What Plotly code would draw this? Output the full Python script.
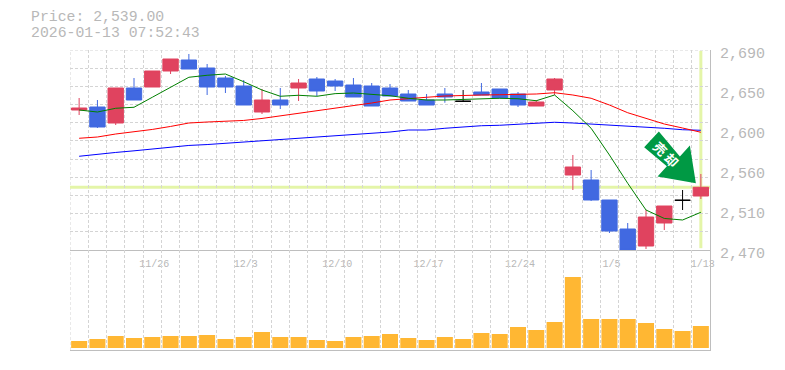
import plotly.graph_objects as go

dates = ["11/19","11/20","11/21","11/25","11/26","11/27","11/28","12/1","12/2","12/3","12/4","12/5",
         "12/8","12/9","12/10","12/11","12/12","12/15","12/16","12/17","12/18","12/19","12/22","12/23",
         "12/24","12/25","12/26","12/29","12/30","1/5","1/6","1/7","1/8","1/9","1/13"]
opens = [2624,2627.3,2609.7,2648.2,2649.3,2666.9,2679,2670.2,2659.2,2650.4,2621.8,2635,2648.2,2658.1,2655.9,
         2651.5,2650.4,2648.2,2641.6,2635,2641.6,2633.6,2643.8,2647.1,2641.6,2628.4,2646,2552.5,2547,2525,
         2493.1,2474.4,2499.7,2524.7,2529.4]
highs = [2637.2,2635,2648.2,2659.2,2666.9,2680.1,2685.6,2674.6,2661.4,2657,2647.1,2648.2,2658.1,2660.3,2658.1,
         2659.2,2653.7,2652.6,2646,2641.6,2648.2,2646,2653.7,2647.1,2643.8,2635,2659.2,2574.5,2558,2525,
         2499.7,2514,2518.4,2536,2553.6]
lows = [2618.5,2604.2,2607.5,2635,2649.3,2663.6,2669.1,2640.5,2642.7,2629.5,2619.6,2625.1,2633.9,2639.4,2644.9,
        2638.3,2628.4,2639.4,2633.9,2629.5,2632,2632.8,2640.5,2637.2,2627.3,2628.4,2640.5,2536,2523.9,2488.7,
        2470,2471.1,2492,2514,2526.1]
closes = [2626.2,2605.3,2648.2,2635,2666.9,2680.1,2669.1,2649.3,2649.3,2629.5,2635,2629.5,2653.7,2644.9,2650.4,
          2638.3,2628.4,2639.4,2633.9,2629.5,2638.3,2633.6,2640.5,2637.2,2629.5,2632.8,2658.1,2561.3,2525,2490.9,
          2470,2506.3,2518.4,2524.7,2539]
ma_short = [2624,2621.8,2625.9,2627,2638,2649,2660,2662.2,2663.6,2655.1,2646,2639.1,2640.2,2639.1,2642,2642.7,
            2641.3,2639.7,2636.9,2635,2635,2635.8,2636.1,2636.9,2636.4,2634.2,2640.5,2623.2,2603.9,2574.5,
            2543.4,2514,2504.7,2503,2511.5]
ma_mid = [2592.9,2594.3,2597.6,2599.8,2602.6,2605.9,2609.7,2610.8,2611.4,2612.5,2614.7,2617.4,2620.2,2622.9,2625.7,
          2629,2631.7,2635,2636.9,2638,2639.4,2640.2,2640.5,2640.8,2641.3,2641.6,2643,2640.5,2636.9,2629.5,
          2621,2614.9,2608.6,2604.2,2599.5]
ma_long = [2573.1,2575.4,2577.3,2579.1,2581.1,2583.3,2585,2586,2587.4,2588.5,2589.9,2591.2,2592.7,2594.6,2596.2,
           2597.3,2598.5,2599.8,2602,2602,2603.9,2605.6,2606.7,2607.2,2608.3,2609.7,2610.5,2609.7,2608.6,2607.8,
           2606.4,2605,2603.9,2602.3,2601.7]
volumes = [7,9,12,10,11,12,12,13,9,11,16,11,11,8,7,11,12,14,10,8,11,9,15,14,21,18,26,71,29,29,29,25,19,17,22]
price_ticks = [2690,2646,2602,2558,2514,2470]
price_labels = ["2,690","2,650","2,600","2,560","2,510","2,470"]
date_ticks = ["11/26","12/3","12/10","12/17","12/24","1/5","1/13"]
last_price = 2539.0
stamp = "2026-01-13 07:52:43"

RED, BLUE, TEXT, GRID, AXIS, HL = "#E0435F", "#4169E1", "#B8B8B8", "#D4D4D4", "#BEBEBE", "#E4F5A8"
FONT = "Liberation Mono"
W, H = 785, 370
DASH = "3px,2px"
xs = list(range(len(dates)))
doji = [21, 33]
solid = [i for i in xs if i not in doji]

fig = go.Figure()
fig.add_trace(go.Candlestick(
    x=solid, open=[opens[i] for i in solid], high=[highs[i] for i in solid],
    low=[lows[i] for i in solid], close=[closes[i] for i in solid],
    increasing=dict(line=dict(color=RED, width=1), fillcolor=RED),
    decreasing=dict(line=dict(color=BLUE, width=1), fillcolor=BLUE),
    showlegend=False))
fig.add_trace(go.Candlestick(
    x=doji, open=[opens[i] for i in doji], high=[highs[i] for i in doji],
    low=[lows[i] for i in doji], close=[closes[i] for i in doji],
    increasing=dict(line=dict(color="#000000", width=1), fillcolor="#000000"),
    decreasing=dict(line=dict(color="#000000", width=1), fillcolor="#000000"),
    showlegend=False))
for vals, col in ((ma_long, "#0000FF"), (ma_mid, "#FF0000"), (ma_short, "#008000")):
    fig.add_trace(go.Scatter(x=xs, y=vals, mode="lines", line=dict(color=col, width=1), showlegend=False))
fig.add_trace(go.Bar(x=xs, y=volumes, marker=dict(color="#FFB733", line_width=0), xaxis="x2", yaxis="y2",
                     showlegend=False))

x_common = dict(range=[-0.5, 34.5], showgrid=False, zeroline=False, fixedrange=True, automargin=False,
                minor=dict(showgrid=True, gridcolor=GRID, griddash=DASH, gridwidth=1, tick0=-0.5, dtick=1, ticks=""))
y_bottom = 1 - 350 / H
y_split = 1 - 250 / H
y_top = 1 - 50 / H
fig.update_layout(
    width=W, height=H, margin=dict(l=0, r=0, t=0, b=0), autosize=False,
    paper_bgcolor="white", plot_bgcolor="white", bargap=0.125, boxgap=0.16, boxgroupgap=0, showlegend=False,
    xaxis=dict(domain=[70 / W, 710 / W], anchor="y", rangeslider=dict(visible=False),
               tickmode="array", tickvals=[dates.index(d) for d in date_ticks], ticktext=date_ticks,
               tickfont=dict(family=FONT, size=10, color=TEXT), ticks="outside", ticklen=4, tickcolor="rgba(0,0,0,0)",
               ticklabelshift=2, showline=True, linecolor=AXIS, linewidth=1, **x_common),
    xaxis2=dict(domain=[70 / W, 710 / W], anchor="y2", showticklabels=False, ticks="",
                showline=True, linecolor=AXIS, linewidth=1, **x_common),
    yaxis=dict(domain=[y_split, y_top], anchor="x", range=[2470, 2690], side="right", zeroline=False, automargin=False,
               tickmode="array", tickvals=price_ticks, ticktext=price_labels, showgrid=False,
               tickfont=dict(family=FONT, size=15, color=TEXT), ticks="outside", ticklen=6, tickcolor="rgba(0,0,0,0)",
               ticklabelshift=3, showline=True, linecolor=AXIS, linewidth=1, fixedrange=True,
               minor=dict(showgrid=True, gridcolor=GRID, griddash=DASH, gridwidth=1, tick0=2470, dtick=20, ticks="")),
    yaxis2=dict(domain=[y_bottom, y_split], anchor="x2", range=[-2, 98], side="right", showgrid=False, zeroline=False,
                automargin=False, showticklabels=False, ticks="", showline=True, linecolor=AXIS, linewidth=1, fixedrange=True),
    shapes=[
        dict(type="line", xref="x", yref="y", x0=-0.5, x1=34.5, y0=2690, y1=2690,
             line=dict(color=GRID, width=1, dash=DASH), layer="below"),
        dict(type="line", xref="x", yref="y", x0=-0.5, x1=-0.5, y0=2470, y1=2690,
             line=dict(color=GRID, width=1, dash=DASH), layer="below"),
        dict(type="line", xref="x2", yref="y2", x0=-0.5, x1=-0.5, y0=-2, y1=98,
             line=dict(color=GRID, width=1, dash=DASH), layer="below"),
        dict(type="line", xref="x", yref="y", x0=-0.5, x1=34.5, y0=last_price, y1=last_price,
             line=dict(color=HL, width=3), layer="below"),
        dict(type="line", xref="x", yref="y", x0=34, x1=34, y0=2472, y1=2689,
             line=dict(color=HL, width=3), layer="below"),
        dict(type="path", xref="x", yref="y", xsizemode="pixel", ysizemode="pixel", xanchor=34, yanchor=last_price,
             path="M -42 55.7 L -56.7 40 L -34 21 L -43.3 10.7 L -5 4 L -11 41.7 L -21 30.7 Z",
             fillcolor="#009944", line=dict(width=0), layer="above"),
    ],
    annotations=[
        dict(xref="paper", yref="paper", x=30 / W, y=1 - 17 / H, xanchor="left", yanchor="middle", showarrow=False,
             text=f"Price: {last_price:,.2f}", font=dict(family=FONT, size=14.8, color=TEXT), borderpad=0),
        dict(xref="paper", yref="paper", x=30 / W, y=1 - 33 / H, xanchor="left", yanchor="middle", showarrow=False,
             text=stamp, font=dict(family=FONT, size=14.8, color=TEXT), borderpad=0),
        dict(xref="paper", yref="paper", x=666.7 / W, y=1 - 154 / H, xanchor="center", yanchor="middle", showarrow=False,
             text="<b>売 却</b>", textangle=45, font=dict(family="Noto Sans CJK JP", size=13, color="white")),
    ],
)
fig.write_html("out.html", config={"displayModeBar": False}, post_script="document.body.style.margin='0';")
